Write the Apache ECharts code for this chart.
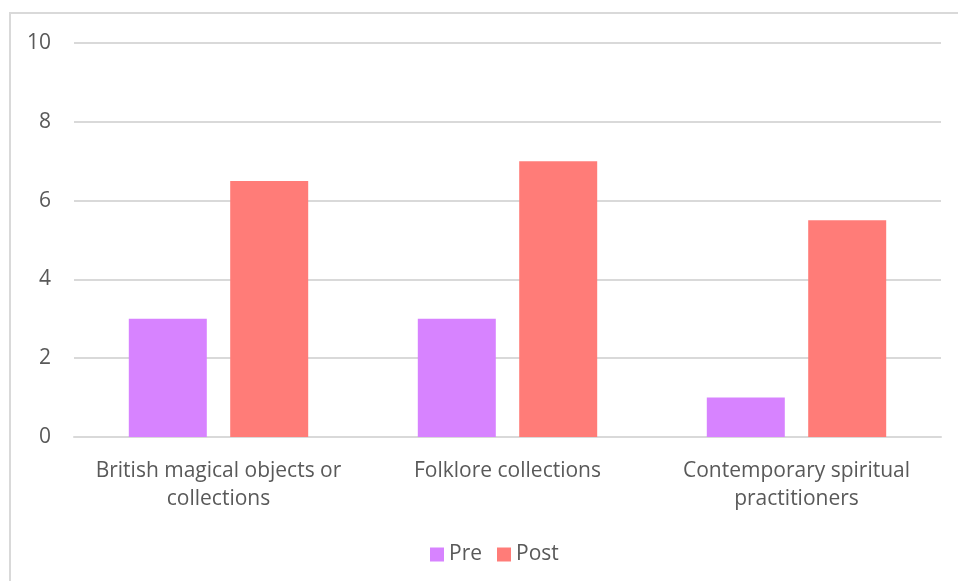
<!DOCTYPE html>
<html>
<head>
<meta charset="utf-8">
<script src="https://cdn.jsdelivr.net/npm/echarts@6/dist/echarts.min.js"></script>
<style>
  html, body { margin: 0; padding: 0; background: #fff; }
  #chart { width: 958px; height: 581px; }
</style>
</head>
<body>
<div id="chart"></div>
<script>
const categories = [
  'British magical objects or\ncollections',
  'Folklore collections',
  'Contemporary spiritual\npractitioners'
];
const preValues = [3, 3, 1];
const postValues = [6.5, 7, 5.5];
const seriesNames = ['Pre', 'Post'];

const FONT = '"Open Sans", Lato, sans-serif';
const chart = echarts.init(document.getElementById('chart'), null, { renderer: 'canvas' });

chart.setOption({
  backgroundColor: '#ffffff',
  animation: false,
  graphic: [{
    type: 'rect',
    shape: { x: 10, y: 13, width: 1200, height: 1200 },
    style: { fill: 'none', stroke: '#d9d9d9', lineWidth: 2 },
    silent: true
  }],
  grid: { left: 74, right: 17, top: 43, bottom: 144 },
  legend: {
    top: 539,
    left: 425,
    itemWidth: 14,
    itemHeight: 14,
    itemGap: 15,
    icon: 'rect',
    textStyle: { color: '#595959', fontSize: 21, fontFamily: FONT },
    data: seriesNames
  },
  xAxis: {
    type: 'category',
    data: categories,
    axisLine: { lineStyle: { color: '#d9d9d9', width: 2 } },
    axisTick: { show: false },
    axisLabel: {
      color: '#595959',
      fontSize: 21,
      fontFamily: FONT,
      lineHeight: 28,
      margin: 20,
      interval: 0
    }
  },
  yAxis: {
    type: 'value',
    min: 0,
    max: 10,
    interval: 2,
    axisLine: { show: false },
    axisTick: { show: false },
    axisLabel: { color: '#595959', fontSize: 21, fontFamily: FONT, margin: 23 },
    splitLine: { lineStyle: { color: '#d9d9d9', width: 2 } }
  },
  series: [
    {
      name: seriesNames[0],
      type: 'bar',
      data: preValues,
      barWidth: 78,
      barGap: '30%',
      itemStyle: { color: '#D783FF' }
    },
    {
      name: seriesNames[1],
      type: 'bar',
      data: postValues,
      barWidth: 78,
      barGap: '30%',
      itemStyle: { color: '#FF7C78' }
    }
  ]
});
</script>
</body>
</html>
